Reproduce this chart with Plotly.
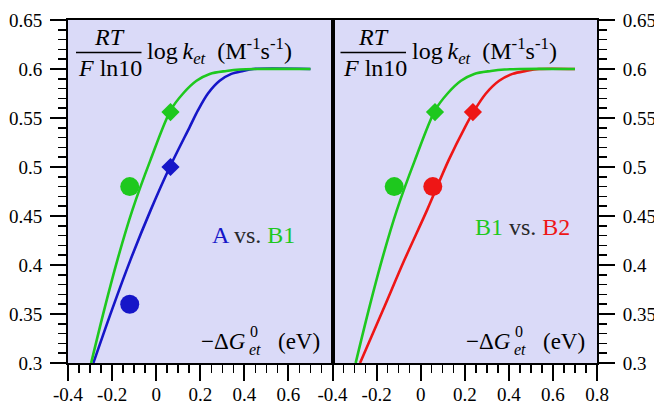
import plotly.graph_objects as go

# ---------------- data ----------------
x_green = [-0.295, -0.236, -0.176, -0.108, -0.026, 0.066, 0.122, 0.183, 0.243, 0.319, 0.38, 0.45, 0.70]
y_green = [0.300, 0.354, 0.405, 0.456, 0.507, 0.558, 0.575, 0.588, 0.595, 0.598, 0.5995, 0.600, 0.600]

x_blue = [-0.285, -0.201, -0.117, -0.025, 0.062, 0.1525, 0.19, 0.235, 0.288, 0.341, 0.394, 0.44, 0.70]
y_blue = [0.300, 0.354, 0.405, 0.456, 0.500, 0.541, 0.558, 0.575, 0.588, 0.595, 0.598, 0.600, 0.600]

x_red = [-0.275, -0.171, -0.074, 0.029, 0.127, 0.202, 0.239, 0.296, 0.356, 0.417, 0.477, 0.537, 0.70]
y_red = [0.300, 0.354, 0.405, 0.456, 0.507, 0.541, 0.556, 0.575, 0.588, 0.595, 0.598, 0.600, 0.600]

# markers: circle and diamond positions
A_circle = (-0.12, 0.36)
A_diamond = (0.065, 0.50)
B1_circle = (-0.12, 0.48)
B1_diamond = (0.065, 0.556)
B2_circle = (0.055, 0.48)
B2_diamond = (0.237, 0.556)

x_tickvals = [-0.4, -0.2, 0.0, 0.2, 0.4, 0.6, 0.8]
x_ticktext_left = ["-0.4", "-0.2", "0", "0.2", "0.4", "0.6", ""]
x_ticktext_right = ["-0.4", "-0.2", "0", "0.2", "0.4", "0.6", "0.8"]
y_tickvals = [0.3, 0.35, 0.4, 0.45, 0.5, 0.55, 0.6, 0.65]
y_ticktext = ["0.3", "0.35", "0.4", "0.45", "0.5", "0.55", "0.6", "0.65"]

GREEN = "rgb(30,200,30)"
BLUE = "rgb(22,22,200)"
RED = "rgb(238,22,22)"
BG = "rgb(218,218,248)"
FONT = "Liberation Serif"

W, H = 654, 403
ML, MR, MT, MB = 68, 57, 20, 40
PW = W - ML - MR
PH = H - MT - MB

fig = go.Figure()

def add_curve(x, y, color, xa, ya):
    fig.add_trace(go.Scatter(x=x, y=y, mode="lines", xaxis=xa, yaxis=ya,
                             line=dict(color=color, width=2.6, shape="spline", smoothing=0.9),
                             hoverinfo="skip"))

def add_marker(pt, color, symbol, size, xa, ya):
    fig.add_trace(go.Scatter(x=[pt[0]], y=[pt[1]], mode="markers", xaxis=xa, yaxis=ya,
                             marker=dict(color=color, symbol=symbol, size=size, line=dict(width=0)),
                             hoverinfo="skip"))

# left panel: A (blue) vs B1 (green)
add_curve(x_blue, y_blue, BLUE, "x", "y")
add_curve(x_green, y_green, GREEN, "x", "y")
add_marker(A_circle, BLUE, "circle", 19, "x", "y")
add_marker(A_diamond, BLUE, "diamond", 14, "x", "y")
add_marker(B1_circle, GREEN, "circle", 19, "x", "y")
add_marker(B1_diamond, GREEN, "diamond", 14, "x", "y")

# right panel: B1 (green) vs B2 (red)
add_curve(x_red, y_red, RED, "x2", "y2")
add_curve(x_green, y_green, GREEN, "x2", "y2")
add_marker(B1_circle, GREEN, "circle", 19, "x2", "y2")
add_marker(B1_diamond, GREEN, "diamond", 14, "x2", "y2")
add_marker(B2_circle, RED, "circle", 19, "x2", "y2")
add_marker(B2_diamond, RED, "diamond", 14, "x2", "y2")

tickfont = dict(family="Liberation Serif", size=19, color="black")

def xaxis(domain, ticktext, anchor):
    return dict(domain=domain, range=[-0.4, 0.8], anchor=anchor, automargin=False,
                tickmode="array", tickvals=x_tickvals, ticktext=ticktext,
                ticks="outside", ticklen=16, tickwidth=2, tickcolor="black",
                minor=dict(tickmode="linear", tick0=-0.4, dtick=0.05, ticks="outside",
                           ticklen=8, tickwidth=1.5, tickcolor="black"),
                showline=True, linecolor="black", linewidth=2, mirror=True,
                showgrid=False, zeroline=False, tickfont=tickfont,
                ticklabelstandoff=-3, fixedrange=True)

def yaxis(side, anchor):
    return dict(range=[0.3, 0.65], anchor=anchor, side=side, automargin=False,
                tickmode="array", tickvals=y_tickvals, ticktext=y_ticktext,
                ticks="outside", ticklen=16, tickwidth=2, tickcolor="black",
                minor=dict(tickmode="linear", tick0=0.3, dtick=0.01, ticks="outside",
                           ticklen=8, tickwidth=1.5, tickcolor="black"),
                showline=True, linecolor="black", linewidth=2, mirror=True,
                showgrid=False, zeroline=False, tickfont=tickfont,
                ticklabelstandoff=4, fixedrange=True)

fig.update_layout(
    width=W, height=H,
    margin=dict(l=ML, r=MR, t=MT, b=MB, autoexpand=False),
    font=dict(family=FONT, size=19, color="black"),
    paper_bgcolor="white", plot_bgcolor=BG,
    showlegend=False, hovermode=False,
    xaxis=xaxis([0, 0.5], x_ticktext_left, "y"),
    xaxis2=xaxis([0.5, 1], x_ticktext_right, "y2"),
    yaxis=yaxis("left", "x"),
    yaxis2=yaxis("right", "x2"),
)

def P(px, py):
    return (px - ML) / PW, (H - MB - py) / PH

def note(text, px, py, size=24, xanchor="center", color="black"):
    x, y = P(px, py)
    fig.add_annotation(text=text, x=x, y=y, xref="paper", yref="paper",
                       xanchor=xanchor, yanchor="middle", showarrow=False,
                       font=dict(family=FONT, size=size, color=color))

DX = PW / 2
for off in (0, DX):
    note("<i>RT</i>", 109 + off, 37)
    x0, y0 = P(76 + off, 52.5)
    x1, _ = P(141.5 + off, 52.5)
    fig.add_shape(type="line", x0=x0, x1=x1, y0=y0, y1=y0, xref="paper", yref="paper",
                  line=dict(color="black", width=1.6))
    note("<i>F</i> ln10", 110 + off, 68)
    note("log\u2009<i>k</i><sub><i>et</i></sub>  (M<sup>-1</sup>s<sup>-1</sup>)", 145 + off, 51, xanchor="left")
    # -ΔG0_et (eV)
    note("\u2212\u0394<i>G</i>", 248 + off, 341, size=23, xanchor="right")
    note("0", 248 + off, 331, size=16, xanchor="left")
    note("<i>et</i>", 247 + off, 349, size=16, xanchor="left")
    note("(eV)", 276 + off, 341, size=23, xanchor="left")

note('<span style="color:%s">A</span> vs. <span style="color:%s">B1</span>' % (BLUE, GREEN),
     210, 235, size=24, xanchor="left", color="rgb(40,40,40)")
note('<span style="color:%s">B1</span> vs. <span style="color:%s">B2</span>' % (GREEN, RED),
     473, 227, size=24, xanchor="left", color="rgb(40,40,40)")

fig.write_html("out.html", config={"displayModeBar": False, "staticPlot": True},
               post_script="document.body.style.margin='0px';document.body.style.overflow='hidden';")
